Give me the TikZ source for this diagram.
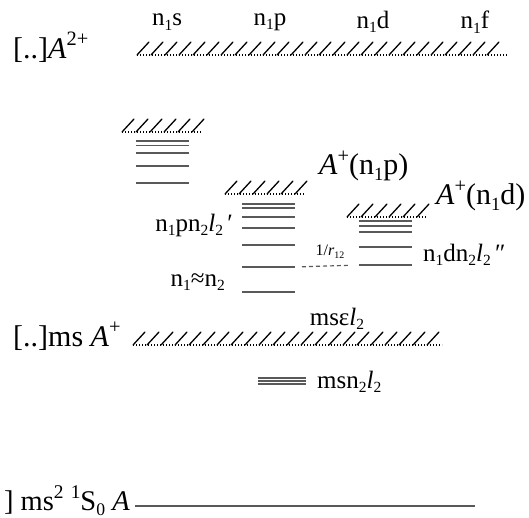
\documentclass[tikz,border=0pt]{standalone}
\usepackage{fontspec}
\setmainfont{Liberation Serif}
\usetikzlibrary{positioning}

% sub- and superscripts that follow the label size
\newcommand{\sps}[1]{\raisebox{0.42em}{\scalebox{0.68}{#1}}}
\newcommand{\sbs}[1]{\raisebox{-0.18em}{\scalebox{0.62}{#1}}}

% hatched (continuum) limit: x from, x to, y, number of strokes
\newcommand{\hatchlevel}[4]{%
  \draw[hatchbase] (#1,#3) -- (#2,#3);
  \foreach \k in {1,...,#4}
    \draw[hatchstroke] ({#1+(\k-1)*14},#3) -- ++(12,-13);
}

\begin{document}
\begin{tikzpicture}[x=1pt,y=-1pt,
  hatchbase/.style={line width=1.1pt,dash pattern=on 1.1pt off 1.9pt},
  hatchstroke/.style={line width=1.3pt,line cap=round},
  level/.style={line width=1.5pt,black!65},
  lbl/.style={inner sep=0pt,font=\fontsize{25}{29}\selectfont},
  big/.style={inner sep=0pt,font=\fontsize{30}{34}\selectfont},
  small/.style={inner sep=0pt,font=\fontsize{16}{19}\selectfont}]
\useasboundingbox (0,0) rectangle (529,518);

% double ionisation limit
\hatchlevel{137}{508}{55}{26}
\node[big,anchor=west] (dbl) at (13,47) {[..]\textit{A}\sps{2+}};
\node[lbl] (ns) at (167,22) {n\sbs{1}s};
\node[lbl] (np) at (270,22) {n\sbs{1}p};
\node[lbl] (nd) at (373,22) {n\sbs{1}d};
\node[lbl] (nf) at (475,22) {n\sbs{1}f};

% n1s series
\hatchlevel{122}{202}{132}{6}
\foreach \y in {141,145.5,153,166,183}
  \draw[level] (136,\y) -- (189,\y);

% n1p series
\hatchlevel{225}{305}{194}{6}
\foreach \y in {204,208,217,228,245,267,292}
  \draw[level] (242,\y) -- (295,\y);
\coordinate (plow) at (295,267);
\node[big,anchor=west] (ionp) at (319,166) {\textit{A}\sps{+}(n\sbs{1}p)};
\node[lbl,anchor=east] (pser) at (233,225) {n\sbs{1}pn\sbs{2}\textit{l}\sbs{2}\,′};
\node[lbl,anchor=east] (neq) at (225,282) {n\sbs{1}≈n\sbs{2}};

% n1d series
\hatchlevel{347}{427}{217}{6}
\foreach \y in {221,226,232,247,265}
  \draw[level] (359,\y) -- (412,\y);
\coordinate (dlow) at (359,265);
\node[big,anchor=west] (iond) at (436,196) {\textit{A}\sps{+}(n\sbs{1}d)};
\node[lbl,anchor=west] (dser) at (423,255) {n\sbs{1}dn\sbs{2}\textit{l}\sbs{2}\,″};

% interaction
\draw[level,line width=1.2pt,dash pattern=on 4pt off 3pt,shorten <=7pt,shorten >=11pt] (plow) -- (dlow);
\node[small] (rint) at (330,252) {1/\textit{r}\sbs{12}};

% single ionisation limit
\hatchlevel{133}{442}{345}{22}
\node[big,anchor=west] (sgl) at (13,336) {[..]ms \textit{A}\sps{+}};
\node[lbl] (cont) at (337,319) {msε\textit{l}\sbs{2}};
\foreach \y in {378,381,384}
  \draw[level,line width=1.2pt] (258,\y) -- (306,\y);
\node[lbl,anchor=west] (ryd) at (317,382) {msn\sbs{2}\textit{l}\sbs{2}};

% ground state
\draw[level,line width=2pt] (135,506) -- (475,506);
\node[big,anchor=east,font=\fontsize{28.5}{32}\selectfont] (gnd) at (130,501) {] ms\sps{2} \sps{1}S\sbs{0} \textit{A}};
\end{tikzpicture}
\end{document}
